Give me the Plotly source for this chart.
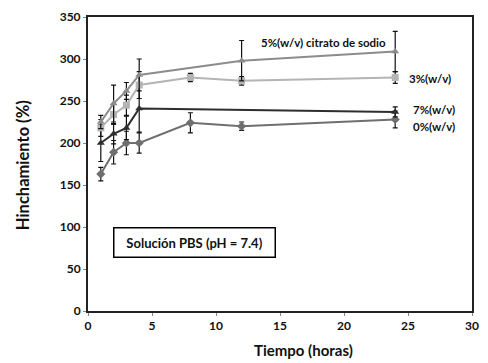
import plotly.graph_objects as go

# Data
t5 = [1, 2, 3, 4, 12, 24]
s5 = [225, 247, 262, 281, 298, 309]
e5 = [8, 22, 10, 19, 24, 24]

t3 = [1, 2, 3, 4, 8, 12, 24]
s3 = [218, 234, 245, 269, 278, 274, 278]
e3 = [10, 12, 12, 16, 5, 5, 7]

t7 = [1, 2, 3, 4, 24]
s7 = [200, 211, 218, 241, 237]
e7 = [22, 12, 14, 28, 6]

t0 = [1, 2, 3, 4, 8, 12, 24]
s0 = [163, 189, 200, 200, 224, 220, 228]
e0 = [8, 14, 14, 12, 12, 5, 10]

x_ticks = [0, 5, 10, 15, 20, 25, 30]
y_ticks = [0, 50, 100, 150, 200, 250, 300, 350]

FONT = "Lato"
L, R, T, B = 88, 9, 17, 52
W, H = 488, 363
PW, PH = W - L - R, H - T - B

fig = go.Figure()

def add(x, y, e, color, symbol, name):
    fig.add_trace(go.Scatter(
        x=x, y=y, mode="lines+markers", name=name,
        line=dict(color=color, width=2),
        marker=dict(symbol=symbol, size=7, color=color),
        error_y=dict(type="data", array=e, visible=True, color="#111111",
                     thickness=1.2, width=2.5),
    ))

add(t0, s0, e0, "#6f6f6f", "diamond", "0%(w/v)")
add(t7, s7, e7, "#2e2e2e", "triangle-up", "7%(w/v)")
add(t3, s3, e3, "#b4b4b4", "square", "3%(w/v)")
add(t5, s5, e5, "#8c8c8c", "triangle-up", "5%(w/v) citrato de sodio")

def px(xpx):
    return (xpx - L) / PW

def py(ypx):
    return (H - B - ypx) / PH

def ann(xpx, ypx, text, size=11.5):
    fig.add_annotation(x=px(xpx), y=py(ypx), xref="paper", yref="paper",
                       text=f"<b>{text}</b>", showarrow=False, xanchor="left", yanchor="middle",
                       font=dict(size=size, color="#111111", family=FONT))

ann(262, 42, "5%(w/v) citrato de sodio")
ann(413, 78, "3%(w/v)")
ann(417, 109, "7%(w/v)")
ann(417, 127, "0%(w/v)")

fig.add_annotation(x=px(196), y=py(242), xref="paper", yref="paper",
                   text="<b>Solución PBS (pH = 7.4)</b>", showarrow=False,
                   xanchor="center", yanchor="middle",
                   font=dict(size=13, color="#111111", family=FONT),
                   bordercolor="#000000", borderwidth=1.5, borderpad=5, bgcolor="white",
                   width=150, height=18)

fig.add_annotation(x=px(307), y=py(350), xref="paper", yref="paper",
                   text="<b>Tiempo (horas)</b>", showarrow=False, xanchor="center", yanchor="middle",
                   font=dict(size=15, family=FONT, color="#111111"))
fig.add_annotation(x=px(22), y=py(165), xref="paper", yref="paper",
                   text="<b>Hinchamiento (%)</b>", showarrow=False, textangle=-90,
                   xanchor="center", yanchor="middle",
                   font=dict(size=16.5, family=FONT, color="#111111"))

axis_common = dict(
    showgrid=False, zeroline=False,
    showline=True, linecolor="#222222", linewidth=2, mirror=True,
    ticks="outside", ticklen=3, tickcolor="#888888",
    tickfont=dict(size=12, family=FONT, color="#111111"),
)

fig.update_layout(
    width=W, height=H,
    margin=dict(l=L, r=R, t=T, b=B),
    paper_bgcolor="white", plot_bgcolor="white",
    showlegend=False,
    font=dict(family=FONT, color="#111111"),
    xaxis=dict(range=[0, 30], tickvals=x_ticks,
               ticktext=[f"<b>{v}</b>" for v in x_ticks], **axis_common),
    yaxis=dict(range=[0, 350], tickvals=y_ticks,
               ticktext=[f"<b>{v}</b>" for v in y_ticks], **axis_common),
)

fig.write_html("out.html", config={"displayModeBar": False},
               post_script="document.body.style.margin='0';")
